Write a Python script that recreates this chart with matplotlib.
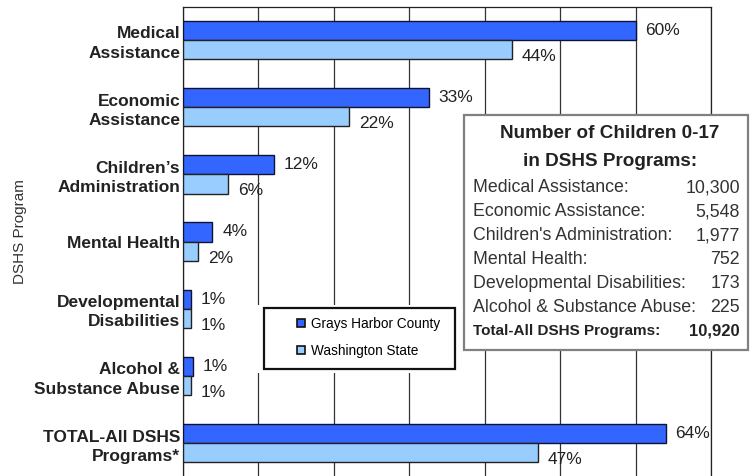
import matplotlib
matplotlib.use('Agg')
import matplotlib.pyplot as plt
from matplotlib.patches import Rectangle
from matplotlib.lines import Line2D
import numpy as np

plt.rcParams['font.family'] = ['Liberation Sans', 'DejaVu Sans']

# data
programs = ['Medical\nAssistance', 'Economic\nAssistance', 'Children\u2019s\nAdministration',
            'Mental Health', 'Developmental\nDisabilities', 'Alcohol &\nSubstance Abuse',
            'TOTAL-All DSHS\nPrograms*']
county = [60, 32.6, 12, 3.9, 1, 1.3, 64]
state = [43.6, 22, 6, 2, 1, 1, 47]
county_lbl = ['60%', '33%', '12%', '4%', '1%', '1%', '64%']
state_lbl = ['44%', '22%', '6%', '2%', '1%', '1%', '47%']

box_names = ['Medical Assistance:', 'Economic Assistance:', "Children's Administration:",
             'Mental Health:', 'Developmental Disabilities:', 'Alcohol & Substance Abuse:']
box_counts = ['10,300', '5,548', '1,977', '752', '173', '225']
total_name = 'Total-All DSHS Programs:'
total_count = '10,920'

dark = '#3366FF'
light = '#99CCFF'

W, H = 754, 476
fig = plt.figure(figsize=(W/100, H/100), dpi=100)
ax = fig.add_axes([183/W, -2/H, (711-183)/W, (478-7)/H])

y = np.arange(len(programs))
h = 0.287
ax.barh(y - h/2, county, height=h, color=dark, edgecolor='#111133', linewidth=1, zorder=3)
ax.barh(y + h/2, state, height=h, color=light, edgecolor='#222222', linewidth=1, zorder=3)

for i in range(len(programs)):
    ax.annotate(county_lbl[i], (county[i], y[i] - h/2), xytext=(7, 0), textcoords='offset points',
                va='center', ha='left', fontsize=12.5, color='#222222')
    ax.annotate(state_lbl[i], (state[i], y[i] + h/2), xytext=(7, -5), textcoords='offset points',
                va='center', ha='left', fontsize=12.5, color='#222222')

ax.set_xlim(0, 70)
ax.set_ylim(6.518, -0.491)
ax.set_xticks(np.arange(0, 71, 10))
ax.set_xticklabels([])
ax.tick_params(axis='x', length=0)
ax.grid(axis='x', color='#333333', linewidth=0.9, zorder=0)
ax.set_yticks(y)
ax.set_yticklabels(programs, fontsize=12.5, fontweight='bold', color='#222222', linespacing=1.35)
ax.tick_params(axis='y', length=0, pad=2)
for s in ax.spines.values():
    s.set_color('#222222')
    s.set_linewidth(0.9)

fig.text(20/W, 1-232/H, 'DSHS Program', rotation=90, ha='center', va='center',
         fontsize=11, color='#333333')

# legend: white surround, black frame, entries inside
fig.patches.append(Rectangle((256/W, 1-373/H), (458-256)/W, (373-305)/H, transform=fig.transFigure,
                             facecolor='white', edgecolor='none', zorder=5))
fig.patches.append(Rectangle((264/W, 1-369/H), (455-264)/W, (369-308)/H, transform=fig.transFigure,
                             facecolor='white', edgecolor='#111111', linewidth=1.6, zorder=5))
handles = [Line2D([], [], marker='s', linestyle='none', markersize=5.5, markerfacecolor=dark,
                  markeredgecolor='#111111', markeredgewidth=1.2),
           Line2D([], [], marker='s', linestyle='none', markersize=5.5, markerfacecolor=light,
                  markeredgecolor='#111111', markeredgewidth=1.2)]
leg = fig.legend(handles, ['Grays Harbor County', 'Washington State'], loc='upper left',
                 bbox_to_anchor=(297/W, 1-317/H), bbox_transform=fig.transFigure,
                 prop={'size': 9.8}, frameon=False, borderpad=0, labelspacing=0.95,
                 handlelength=0.6, handletextpad=0.45, borderaxespad=0)
leg.set_zorder(6)

# info box
fig.patches.append(Rectangle((464/W, 1-350/H), (748-464)/W, (350-115)/H, transform=fig.transFigure,
                             facecolor='white', edgecolor='#808080', linewidth=1.6, zorder=5))
fig.text(610/W, 1-133/H, 'Number of Children 0-17', ha='center', va='center', fontsize=13.6,
         fontweight='bold', color='#222222', zorder=6)
fig.text(610/W, 1-162/H, 'in DSHS Programs:', ha='center', va='center', fontsize=13.6,
         fontweight='bold', color='#222222', zorder=6)
for k in range(len(box_names)):
    yy = 1 - (188 + 24*k)/H
    fig.text(473/W, yy, box_names[k], ha='left', va='center', fontsize=12.8, color='#333333', zorder=6)
    fig.text(740/W, yy, box_counts[k], ha='right', va='center', fontsize=12.8, color='#333333', zorder=6)
yy = 1 - 331/H
fig.text(473/W, yy, total_name, ha='left', va='center', fontsize=11, fontweight='bold',
         color='#222222', zorder=6)
fig.text(740/W, yy, total_count, ha='right', va='center', fontsize=12, fontweight='bold',
         color='#222222', zorder=6)

fig.savefig('out.png', dpi=100)
